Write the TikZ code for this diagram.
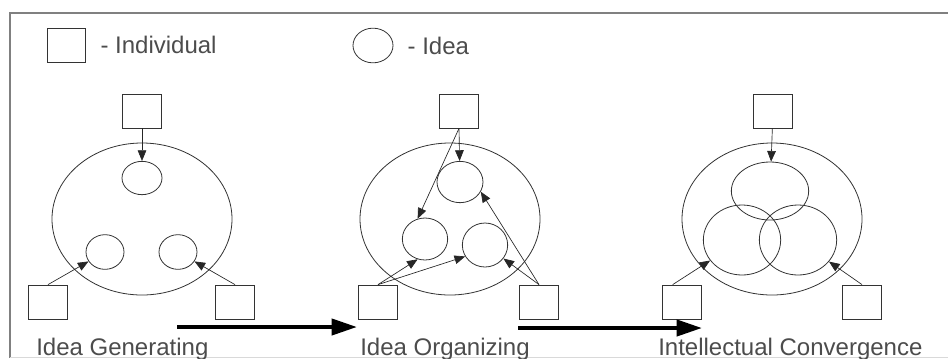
\documentclass[tikz,border=0pt]{standalone}
\usepackage{fontspec}
\setmainfont{Liberation Sans}
\usetikzlibrary{shapes.geometric,arrows.meta,positioning}
\begin{document}
\begin{tikzpicture}[x=0.75pt,y=-0.75pt]
    \tikzset{
        person/.style = {rectangle, draw=black!80, line width=0.6pt, minimum width=29.5pt, minimum height=25.5pt, inner sep=0pt},
        idea/.style = {ellipse, draw=black!80, line width=0.6pt, inner sep=0pt},
        group/.style = {ellipse, draw=black!80, line width=0.6pt, minimum width=135pt, minimum height=114pt, inner sep=0pt},
        caption/.style = {text=black!70, font=\fontsize{18}{21}\selectfont, inner sep=0pt},
        arrow/.style = {line width=0.5pt, draw=black!85, -{Triangle[length=8pt,width=6.5pt]}},
        flow/.style = {line width=3pt, -{Triangle[length=19pt,width=12pt]}}
    }
    \useasboundingbox (0,0) rectangle (948,358);
    \draw [black!50, line width=1pt] (948,13) -- (10,13) -- (10,358);
    \draw [black!15] (10,357) -- (948,357);

    \node (legsq) [person, minimum width=29pt] at (66.5,45) {};
    \node (legsqtext) [caption, right=10.5pt of legsq] {- Individual};
    \node (legidea) [idea, minimum width=30pt, minimum height=26pt] at (373,45.5) {};
    \node (legideatext) [caption, right=10.5pt of legidea] {- Idea};

    \node (group1) [group] at (142,219) {};
    \node (top1) [person] at (142,111) {};
    \node (left1) [person] at (48,302) {};
    \node (right1) [person] at (235,302) {};
    \node (idea1a) [idea, minimum width=30pt, minimum height=25pt] at (142,178) {};
    \node (idea1b) [idea, minimum width=28.5pt, minimum height=26pt] at (105,252) {};
    \node (idea1c) [idea, minimum width=28.5pt, minimum height=26pt] at (178,252) {};
    \node (gen) [caption, anchor=base west] at (36,355) {Idea Generating};

    \draw [arrow] (top1) -- (idea1a);
    \draw [arrow] (left1.north) -- (idea1b);
    \draw [arrow] (right1.north) -- (idea1c);

    \node (group2) [group] at (450,219) {};
    \node (top2) [person] at (459,111) {};
    \node (left2) [person] at (378,302) {};
    \node (right2) [person] at (539,302) {};
    \node (idea2a) [idea, minimum width=34.5pt, minimum height=31pt] at (460,182) {};
    \node (idea2b) [idea, minimum width=34pt, minimum height=31.5pt] at (425,239) {};
    \node (idea2c) [idea, minimum width=34pt, minimum height=33pt] at (485,245) {};
    \node (org) [caption, anchor=base west] at (360,355) {Idea Organizing};

    \draw [arrow] (top2.south) -- (idea2a);
    \draw [arrow] (top2.south) -- (idea2b.110);
    \draw [arrow] (left2.north) -- (idea2b.250);
    \draw [arrow] (left2.north) -- (idea2c.210);
    \draw [arrow] (right2.north) -- (idea2a.335);
    \draw [arrow] (right2.north) -- (idea2c);

    \node (group3) [group] at (772,219) {};
    \node (top3) [person] at (773,111) {};
    \node (left3) [person] at (682,302) {};
    \node (right3) [person] at (862,302) {};
    \node (conv3a) [idea, minimum width=58pt, minimum height=43.5pt] at (770,191) {};
    \node (conv3b) [idea, minimum width=58pt, minimum height=52.5pt] at (742,240) {};
    \node (conv3c) [idea, minimum width=58pt, minimum height=52.5pt] at (798,240) {};
    \node (conv) [caption, anchor=base west] at (658,355) {Intellectual Convergence};

    \draw [arrow] (top3) -- (conv3a);
    \draw [arrow] ([xshift=-7pt]left3.north) -- (conv3b);
    \draw [arrow] (right3.north) -- (conv3c);

    \coordinate (flow1s) at (177,327);
    \coordinate (flow1e) at (357,327);
    \coordinate (flow2s) at (518,328);
    \coordinate (flow2e) at (702,328);
    \draw [flow] (flow1s) -- (flow1e);
    \draw [flow] (flow2s) -- (flow2e);
\end{tikzpicture}
\end{document}
